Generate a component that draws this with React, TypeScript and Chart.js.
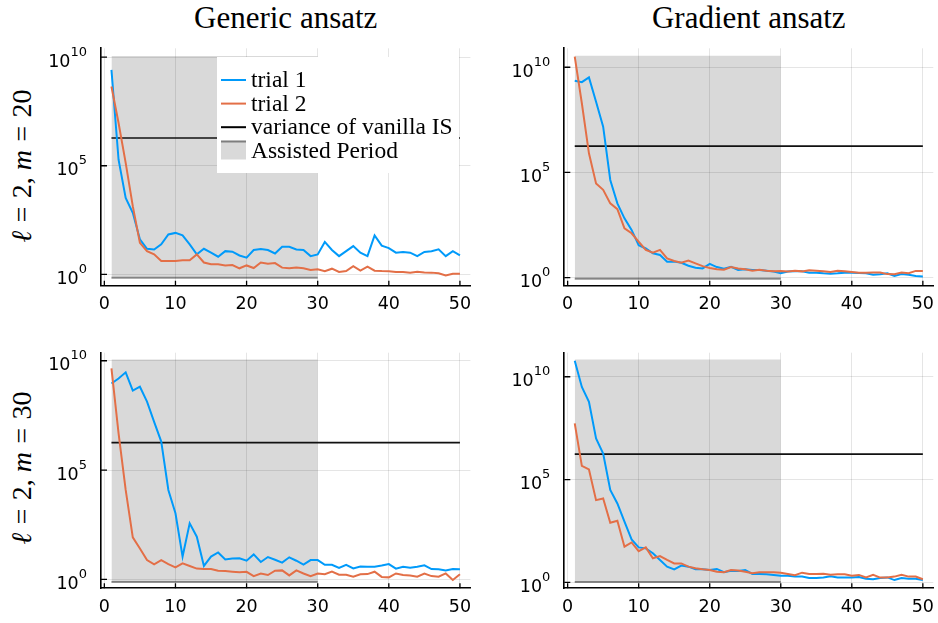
import React, { useEffect, useRef } from "react";
import { Chart, registerables } from "chart.js";

Chart.register(...registerables);

// ---------------- data ----------------
const iterations = [
  1, 2, 3, 4, 5, 6, 7, 8, 9, 10, 11, 12, 13, 14, 15, 16, 17, 18, 19, 20, 21, 22, 23, 24, 25,
  26, 27, 28, 29, 30, 31, 32, 33, 34, 35, 36, 37, 38, 39, 40, 41, 42, 43, 44, 45, 46, 47, 48, 49, 50,
];
const xTicks = [0, 10, 20, 30, 40, 50];
const yTicks = [1, 1e5, 1e10];
const yTickExponents = ["0", "5", "10"];

const columnTitles = ["Generic ansatz", "Gradient ansatz"];
const rowMValues = ["20", "30"];
const seriesNames = ["trial 1", "trial 2", "variance of vanilla IS", "Assisted Period"];

const genericM20Trial1 = [
  2.6e9, 1.9e5, 3300, 680, 41, 15, 14, 24, 69, 81, 62, 24, 8.3, 15, 10, 6.5, 11.7, 11, 7.4, 5.9,
  13.2, 14.5, 13.2, 9.1, 18.6, 18.6, 14.1, 13.2, 6.9, 8.3, 31, 13.2, 6.9, 11.7, 20, 10, 6.9, 62, 21, 16.2,
  10, 10.7, 10, 6.9, 10.7, 11.7, 14.1, 6.9, 11.7, 7.4,
];
const genericM20Trial2 = [
  4.5e8, 9.3e6, 1.35e5, 1380, 28, 11.7, 8.3, 4.1, 4.1, 4.1, 4.4, 4.4, 8.3, 3.5, 2.9, 2.95, 2.57, 2.7, 1.9, 2.57,
  1.95, 3.5, 3.1, 3.3, 2.04, 1.9, 2.04, 1.9, 1.58, 1.7, 1.41, 1.82, 1.29, 1.41, 2.4, 1.48, 2.24, 1.48, 1.41, 1.38,
  1.29, 1.29, 1.2, 1.32, 1.23, 1.2, 1.12, 0.89, 1.07, 1.07,
];
const gradientM20Trial1 = [
  2.3e9, 1.95e9, 3.3e9, 2.3e8, 1.5e7, 4.4e4, 3400, 660, 186, 35, 24.5, 14.5, 12, 5.8, 5.8, 5.1, 3.7, 3.0, 2.75, 4.5,
  3.2, 2.7, 3.3, 2.3, 2.5, 2.3, 2.3, 2.15, 1.95, 1.62, 1.95, 2.0, 2.0, 1.74, 1.74, 1.62, 1.55, 1.62, 1.74, 1.74,
  1.66, 1.62, 1.38, 1.45, 1.62, 1.2, 1.48, 1.38, 1.2, 1.15,
];
const gradientM20Trial2 = [
  3.2e10, 1.95e8, 8.1e5, 3.0e4, 1.5e4, 3400, 1800, 224, 129, 51, 21, 15.5, 21, 8.3, 6.2, 5.1, 6.5, 4.8, 3.55, 2.9,
  2.5, 2.4, 3.2, 2.75, 2.5, 2.15, 2.4, 2.15, 2.0, 2.1, 1.95, 2.15, 2.0, 2.24, 2.15, 2.0, 1.86, 2.15, 2.0, 1.86,
  1.74, 1.74, 1.78, 1.78, 1.48, 1.45, 1.78, 1.62, 2.1, 2.1,
];
const genericM30Trial1 = [
  9.1e8, 1.55e9, 2.95e9, 4.3e8, 6.5e8, 1.35e8, 1.6e7, 2.0e6, 1.23e4, 1050, 11, 363, 89, 4.1, 11, 17, 8.1, 8.9, 9.1, 7.1,
  13.8, 6.2, 10.5, 7.9, 5.8, 10.2, 7.1, 4.7, 7.6, 7.6, 4.6, 4.6, 3.3, 4.6, 3.16, 3.9, 3.8, 3.8, 4.3, 5.0,
  3.1, 3.8, 3.4, 3.8, 4.4, 2.95, 2.9, 2.57, 2.95, 2.9,
];
const genericM30Trial2 = [
  4.5e9, 4.8e6, 1.23e4, 83, 26, 7.6, 4.9, 7.6, 5.0, 3.55, 5.4, 4.1, 3.1, 2.95, 2.95, 2.5, 2.4, 2.24, 2.1, 2.2,
  1.41, 1.86, 1.58, 2.5, 2.57, 1.51, 2.57, 1.86, 1.41, 1.86, 1.7, 2.24, 1.62, 1.62, 1.32, 1.7, 1.74, 2.24, 1.29, 1.23,
  1.86, 1.58, 1.51, 1.32, 1.82, 1.41, 1.32, 1.86, 0.93, 1.7,
];
const gradientM30Trial1 = [
  6.0e10, 3.2e9, 6.0e8, 1.0e7, 1.86e6, 3.1e4, 6900, 890, 123, 50, 45, 26, 12.3, 5.8, 4.3, 6.5, 5.8, 4.3, 4.3, 4.0,
  4.5, 3.1, 3.7, 3.55, 4.0, 2.57, 2.57, 2.45, 2.3, 2.1, 2.1, 1.95, 1.9, 1.62, 1.62, 1.74, 1.95, 1.74, 1.74, 1.74,
  1.82, 1.51, 1.41, 1.62, 1.74, 1.29, 1.62, 1.51, 1.51, 1.29,
];
const gradientM30Trial2 = [
  5.4e7, 4.6e5, 3.1e5, 1.0e4, 1.2e4, 794, 1000, 54, 87, 33, 50, 14.8, 19, 12.3, 8.3, 8.3, 5.8, 4.8, 4.3, 4.0,
  3.3, 3.1, 4.0, 3.8, 3.3, 2.75, 3.1, 3.1, 3.1, 2.95, 2.57, 2.2, 2.95, 2.57, 2.57, 2.6, 2.35, 2.45, 2.45, 2.1,
  2.3, 1.74, 2.3, 1.7, 1.7, 1.9, 2.35, 1.9, 1.9, 1.41,
];

// variance of vanilla IS, per panel (TL, TR, BL, BR)
const vanillaVariance = [1.9e6, 1.8e6, 1.78e6, 1.74e6];
// assisted period (x range) and its vertical extent per panel
const assistedStart = 1;
const assistedEnd = 30;
const assistedLow = [0.7, 0.9, 0.76, 1.05];
const assistedHigh = [1.15e10, 3.5e10, 1.15e10, 6.9e10];
// axis ranges per panel
const xMin = -0.47;
const xMax = 51.47;
const yMinPerPanel = [0.324, 0.417, 0.389, 0.513];
const yMaxPerPanel = [2.57e10, 7.94e10, 2.34e10, 1.48e11];

// ---------------- styling ----------------
const BLUE = "#009AFA";
const ORANGE = "#E36F47";
const SHADE = "rgba(0,0,0,0.15)";
const SHADE_EDGE = "rgba(0,0,0,0.42)";
const GRID = "rgba(0,0,0,0.1)";
const SANS = '"DejaVu Sans", sans-serif';
const SERIF = '"Liberation Serif", "Times New Roman", serif';

type PanelGeom = {
  canvasLeft: number;
  canvasTop: number;
  canvasWidth: number;
  canvasHeight: number;
  plotLeft: number;
  plotTop: number;
  plotRight: number;
  plotBottom: number;
};

const geoms: PanelGeom[] = [
  { canvasLeft: 0, canvasTop: 36, canvasWidth: 472, canvasHeight: 288, plotLeft: 101, plotTop: 48.3, plotRight: 470.4, plotBottom: 285.7 },
  { canvasLeft: 472, canvasTop: 36, canvasWidth: 466, canvasHeight: 288, plotLeft: 564.3, plotTop: 48.3, plotRight: 933.3, plotBottom: 285.7 },
  { canvasLeft: 0, canvasTop: 336, canvasWidth: 472, canvasHeight: 287, plotLeft: 101, plotTop: 352.7, plotRight: 470.4, plotBottom: 588.3 },
  { canvasLeft: 472, canvasTop: 336, canvasWidth: 466, canvasHeight: 287, plotLeft: 564.3, plotTop: 352.7, plotRight: 933.3, plotBottom: 588.3 },
];

const panelSeries = [
  [genericM20Trial1, genericM20Trial2],
  [gradientM20Trial1, gradientM20Trial2],
  [genericM30Trial1, genericM30Trial2],
  [gradientM30Trial1, gradientM30Trial2],
];

const decorPlugin = {
  id: "panelDecor",
  afterDraw(chart: any, _args: any, opts: any) {
    const ctx = chart.ctx as CanvasRenderingContext2D;
    const area = chart.chartArea;
    const xs = chart.scales.x;
    const ys = chart.scales.y;
    ctx.save();
    // inner tick marks
    ctx.strokeStyle = "#000";
    ctx.lineWidth = 1.3;
    ctx.beginPath();
    yTicks.forEach((v) => {
      const y = ys.getPixelForValue(v);
      ctx.moveTo(area.left, y);
      ctx.lineTo(area.left + 6, y);
    });
    xTicks.forEach((v) => {
      const x = xs.getPixelForValue(v);
      ctx.moveTo(x, area.bottom);
      ctx.lineTo(x, area.bottom - 5);
    });
    ctx.stroke();

    // y tick labels: 10^k
    ctx.fillStyle = "#000";
    ctx.textBaseline = "alphabetic";
    ctx.textAlign = "left";
    yTicks.forEach((v, i) => {
      const y = ys.getPixelForValue(v);
      const exp = yTickExponents[i];
      ctx.font = `17.5px ${SANS}`;
      const wb = ctx.measureText("10").width;
      ctx.font = `13px ${SANS}`;
      const we = ctx.measureText(exp).width;
      const right = area.left - 14;
      ctx.font = `17.5px ${SANS}`;
      ctx.fillText("10", right - we - wb, y + 9.5);
      ctx.font = `13px ${SANS}`;
      ctx.fillText(exp, right - we, y - 1.5);
    });

    // x tick labels
    ctx.font = `17.5px ${SANS}`;
    ctx.textAlign = "center";
    xTicks.forEach((v) => {
      const x = xs.getPixelForValue(v);
      ctx.fillText(String(v), x, area.bottom + 23.6);
    });

    // legend
    if (opts && opts.legend) {
      const ox = opts.offsetX;
      const oy = opts.offsetY;
      const bx = 217 - ox;
      const by = 57 - oy;
      ctx.fillStyle = "#fff";
      ctx.fillRect(bx, by, 242, 116);
      const colors = [BLUE, ORANGE, "#000"];
      ctx.font = `23.5px ${SERIF}`;
      ctx.textAlign = "left";
      seriesNames.forEach((name, i) => {
        const ly = 80 + i * 23.6 - oy;
        if (i < 3) {
          ctx.strokeStyle = colors[i];
          ctx.lineWidth = 2;
          ctx.beginPath();
          ctx.moveTo(221 - ox, ly);
          ctx.lineTo(246 - ox, ly);
          ctx.stroke();
        } else {
          ctx.fillStyle = SHADE;
          ctx.fillRect(221 - ox, 140.5 - oy, 25, 19);
          ctx.strokeStyle = SHADE_EDGE;
          ctx.lineWidth = 2;
          ctx.beginPath();
          ctx.moveTo(221 - ox, 141.5 - oy);
          ctx.lineTo(246 - ox, 141.5 - oy);
          ctx.stroke();
        }
        ctx.fillStyle = "#000";
        ctx.fillText(name, 251 - ox, ly + 7);
      });
    }
    ctx.restore();
  },
};

function Panel({ index }: { index: number }) {
  const ref = useRef<HTMLCanvasElement | null>(null);
  const g = geoms[index];
  useEffect(() => {
    if (!ref.current) return;
    const [t1, t2] = panelSeries[index];
    const padTop = g.plotTop - g.canvasTop;
    const padRight = g.canvasLeft + g.canvasWidth - g.plotRight;
    const yAxisWidth = g.plotLeft - g.canvasLeft;
    const xAxisHeight = g.canvasTop + g.canvasHeight - g.plotBottom;
    const chart = new Chart(ref.current, {
      type: "line",
      data: {
        datasets: [
          {
            label: seriesNames[0],
            data: iterations.map((x, i) => ({ x, y: t1[i] })),
            borderColor: BLUE,
            borderWidth: 2,
            pointRadius: 0,
            fill: false,
            order: 1,
          },
          {
            label: seriesNames[1],
            data: iterations.map((x, i) => ({ x, y: t2[i] })),
            borderColor: ORANGE,
            borderWidth: 2,
            pointRadius: 0,
            fill: false,
            order: 0,
          },
          {
            label: seriesNames[2],
            data: [
              { x: iterations[0], y: vanillaVariance[index] },
              { x: iterations[iterations.length - 1], y: vanillaVariance[index] },
            ],
            borderColor: "#111",
            borderWidth: 1.7,
            pointRadius: 0,
            fill: false,
            order: 2,
          },
          {
            label: "assisted-low",
            data: [
              { x: assistedStart, y: assistedLow[index] },
              { x: assistedEnd, y: assistedLow[index] },
            ],
            borderColor: SHADE_EDGE,
            borderWidth: 2,
            pointRadius: 0,
            fill: false,
            order: 3,
          },
          {
            label: seriesNames[3],
            data: [
              { x: assistedStart, y: assistedHigh[index] },
              { x: assistedEnd, y: assistedHigh[index] },
            ],
            borderWidth: 0,
            borderColor: "rgba(0,0,0,0)",
            backgroundColor: SHADE,
            pointRadius: 0,
            fill: 3,
            order: 4,
          },
        ] as any,
      },
      options: {
        animation: false,
        responsive: false,
        devicePixelRatio: 1,
        events: [],
        layout: { padding: { left: 0, top: padTop, right: padRight, bottom: 0 } },
        plugins: {
          legend: { display: false },
          tooltip: { enabled: false },
          panelDecor: { legend: index === 0, offsetX: g.canvasLeft, offsetY: g.canvasTop },
        } as any,
        scales: {
          x: {
            type: "linear",
            min: xMin,
            max: xMax,
            afterBuildTicks: (s: any) => {
              s.ticks = xTicks.map((v) => ({ value: v }));
            },
            afterFit: (s: any) => {
              s.height = xAxisHeight;
            },
            ticks: { display: false },
            grid: { color: GRID, lineWidth: 1, drawTicks: false },
            border: { color: "#000", width: 1.6 },
          },
          y: {
            type: "logarithmic",
            min: yMinPerPanel[index],
            max: yMaxPerPanel[index],
            afterBuildTicks: (s: any) => {
              s.ticks = yTicks.map((v) => ({ value: v }));
            },
            afterFit: (s: any) => {
              s.width = yAxisWidth;
            },
            ticks: { display: false },
            grid: { color: GRID, lineWidth: 1, drawTicks: false },
            border: { color: "#000", width: 1.6 },
          },
        },
      } as any,
      plugins: [decorPlugin],
    });
    return () => chart.destroy();
  }, [index]);
  return (
    <div
      style={{
        position: "absolute",
        left: g.canvasLeft,
        top: g.canvasTop,
        width: g.canvasWidth,
        height: g.canvasHeight,
      }}
    >
      <canvas ref={ref} width={g.canvasWidth} height={g.canvasHeight} style={{ display: "block" }} />
    </div>
  );
}

function RowLabel({ centerY, m }: { centerY: number; m: string }) {
  const w = 300;
  const h = 32;
  const rel = { margin: "0 0.3em" };
  return (
    <div
      style={{
        position: "absolute",
        left: 22 - w / 2,
        top: centerY - h / 2,
        width: w,
        height: h,
        lineHeight: `${h}px`,
        textAlign: "center",
        transform: "rotate(-90deg)",
        fontFamily: SERIF,
        fontSize: 28,
        whiteSpace: "nowrap",
        color: "#000",
      }}
    >
      <span style={{ fontStyle: "italic" }}>ℓ</span>
      <span style={rel}>=</span>2,
      <span style={{ fontStyle: "italic", marginLeft: "0.25em" }}>m</span>
      <span style={rel}>=</span>
      {m}
    </div>
  );
}

export default function App() {
  const titleCenters = [
    (geoms[0].plotLeft + geoms[0].plotRight) / 2,
    (geoms[1].plotLeft + geoms[1].plotRight) / 2,
  ];
  return (
    <div
      style={{
        position: "absolute",
        left: 0,
        top: 0,
        width: 938,
        height: 623,
        background: "#fff",
        overflow: "hidden",
      }}
    >
      {columnTitles.map((t, i) => (
        <div
          key={t}
          style={{
            position: "absolute",
            left: titleCenters[i] - 200,
            top: 3,
            width: 400,
            textAlign: "center",
            fontFamily: SERIF,
            fontSize: 31,
            lineHeight: "30px",
            color: "#000",
            whiteSpace: "nowrap",
          }}
        >
          {t}
        </div>
      ))}
      <RowLabel centerY={166} m={rowMValues[0]} />
      <RowLabel centerY={468} m={rowMValues[1]} />
      {[0, 1, 2, 3].map((i) => (
        <Panel key={i} index={i} />
      ))}
    </div>
  );
}
